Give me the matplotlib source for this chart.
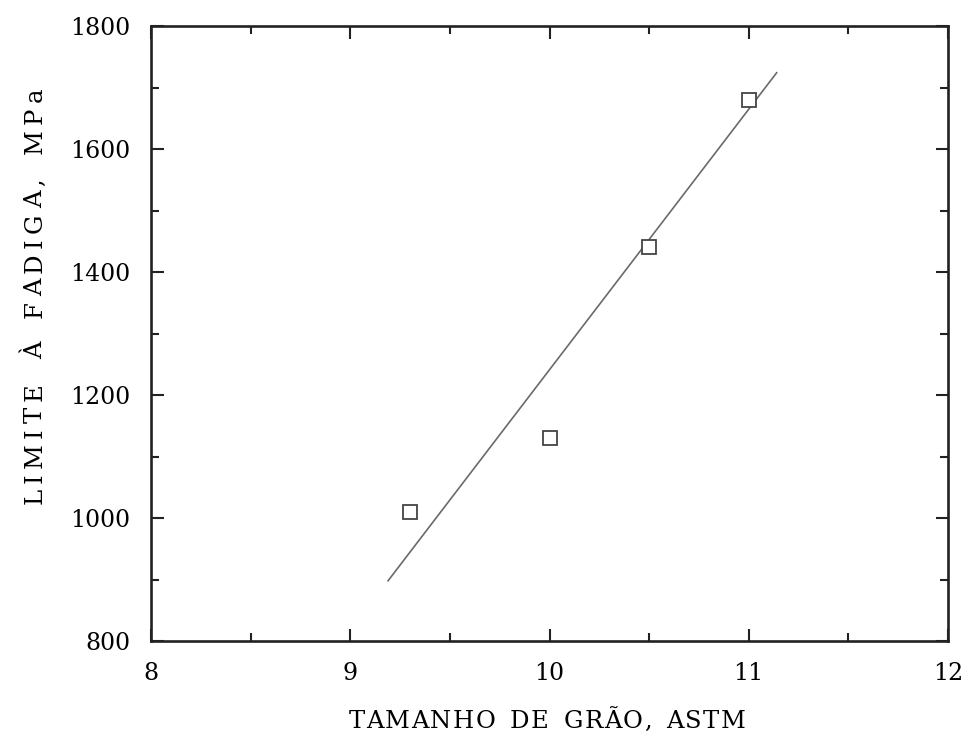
import matplotlib
matplotlib.use("Agg")
import matplotlib.pyplot as plt
from matplotlib.ticker import MultipleLocator

grain_size = [9.3, 10.0, 10.5, 11.0]
fatigue_limit = [1010, 1130, 1440, 1680]
fit_x = [9.19, 11.14]
fit_y = [898, 1724]

x_label = 'TAMANHO DE GRÃO, ASTM'
y_label = 'LIMITE À FADIGA, MPa'

plt.rcParams['font.family'] = ['DejaVu Serif']

W, H = 966, 731
fig = plt.figure(figsize=(W / 100, H / 100), dpi=100)
ax = fig.add_axes([151 / W, 1 - 641 / H, 797 / W, 615 / H])

ax.plot(fit_x, fit_y, color='#6a6a6a', lw=1.2)
ax.plot(grain_size, fatigue_limit, ls='none', marker='s', ms=10,
        mfc='white', mec='#444444', mew=1.3)

ax.set_xlim(8, 12)
ax.set_ylim(800, 1800)
ax.xaxis.set_major_locator(MultipleLocator(1))
ax.xaxis.set_minor_locator(MultipleLocator(0.5))
ax.yaxis.set_major_locator(MultipleLocator(200))
ax.yaxis.set_minor_locator(MultipleLocator(100))
ax.tick_params(which='both', direction='in', top=True, right=True, width=1.5,
               color='#222222')
ax.tick_params(which='major', length=9, labelsize=17, pad=15)
ax.tick_params(which='minor', length=5.5)
for s in ax.spines.values():
    s.set_linewidth(1.9)
    s.set_color('#222222')


def spaced(fig, s, cx, cy, target, size, rotation=0, word_em=0.55):
    """Draw string s centred at pixel (cx, cy) with letter spacing so that
    its total length is about `target` pixels."""
    r = fig.canvas.get_renderer()
    em = size * 100 / 72
    widths = []
    for ch in s:
        if ch == ' ':
            widths.append(None)
            continue
        t = fig.text(0, 0, ch, size=size)
        widths.append(t.get_window_extent(r).width)
        t.remove()
    n_gaps = len(s) - 1
    letters = sum(w for w in widths if w is not None)
    n_space = sum(1 for w in widths if w is None)
    base_space = em * word_em
    extra = (target - letters - n_space * base_space) / n_gaps
    cap = 0.729 * em
    pos = -target / 2
    for ch, w in zip(s, widths):
        if w is None:
            pos += base_space + extra
            continue
        c = pos + w / 2
        if rotation == 0:
            fig.text((cx + c) / W, 1 - (cy + cap / 2) / H, ch, size=size,
                     ha='center', va='baseline', rotation_mode='anchor')
        else:
            fig.text((cx + cap / 2) / W, 1 - (cy - c) / H, ch, size=size,
                     ha='center', va='baseline', rotation=90,
                     rotation_mode='anchor')
        pos += w + extra


fig.canvas.draw()
spaced(fig, x_label, 547, 719, 397, 17.5, word_em=0.5)
spaced(fig, y_label, 33, 296, 417, 17.5, rotation=90, word_em=0.55)

fig.savefig('out.png', dpi=100)
